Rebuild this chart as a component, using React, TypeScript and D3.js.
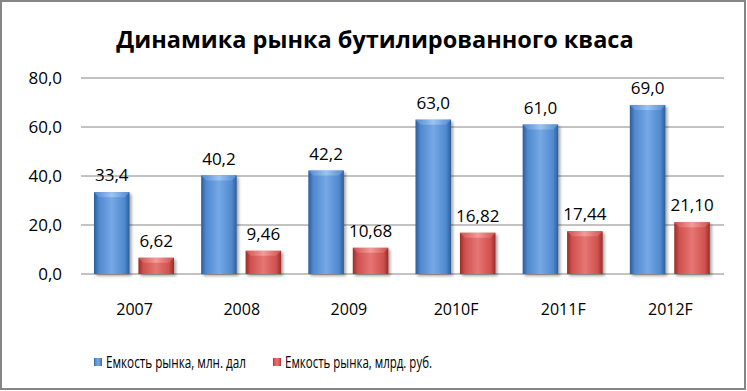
import React from "react";
import * as d3 from "d3";

const categories = ["2007", "2008", "2009", "2010F", "2011F", "2012F"];
const volumeMlnDal = [33.4, 40.2, 42.2, 63.0, 61.0, 69.0];
const valueBlnRub = [6.62, 9.46, 10.68, 16.82, 17.44, 21.1];
const volumeLabels = ["33,4", "40,2", "42,2", "63,0", "61,0", "69,0"];
const valueLabels = ["6,62", "9,46", "10,68", "16,82", "17,44", "21,10"];
const yTicks = [0, 20, 40, 60, 80];
const seriesNames = ["Емкость рынка, млн. дал", "Емкость рынка, млрд. руб."];

const W = 747;
const H = 391;
const FONT = "'Open Sans', 'Noto Sans', sans-serif";

export default function App() {
  const x0 = d3.scaleBand<string>().domain(categories).range([81, 724]).padding(0);
  const x1 = d3.scaleBand<string>().domain(["a", "b"]).range([13, 93]).paddingInner(0.2).paddingOuter(0);
  const y = d3.scaleLinear().domain([0, 80]).range([274, 78]);
  const fmt = (v: number) => v.toFixed(1).replace(".", ",");

  const palettes = [
    { id: "blue", edge: "#2c5d97", mid: "#5089cf", light: "#76a8e6", top: "#9cc4f2" },
    { id: "red", edge: "#9a2b28", mid: "#cf514e", light: "#e67673", top: "#f29c9a" },
  ];
  const legendX = [94, 273];
  const legendLen = [140, 147];

  const bar = (xPos: number, w: number, v: number, p: typeof palettes[0], k: string) => {
    const yt = y(v);
    const yb = y(0);
    const b = Math.min(5, (yb - yt) / 3);
    return (
      <g key={k} filter="url(#shadow)">
        <rect x={xPos} y={yt} width={w} height={yb - yt} fill={`url(#g-${p.id})`} />
        <polygon
          points={`${xPos},${yt} ${xPos + w},${yt} ${xPos + w - b},${yt + b} ${xPos + b},${yt + b}`}
          fill={`url(#gt-${p.id})`}
        />
      </g>
    );
  };

  return (
    <svg width={W} height={H} style={{ position: "absolute", left: 0, top: 0 }} fontFamily={FONT}>
      <defs>
        {palettes.map((p) => (
          <React.Fragment key={p.id}>
            <linearGradient id={`g-${p.id}`} x1="0" x2="1" y1="0" y2="0">
              <stop offset="0" stopColor={p.edge} />
              <stop offset="0.14" stopColor={p.mid} />
              <stop offset="0.5" stopColor={p.light} />
              <stop offset="0.86" stopColor={p.mid} />
              <stop offset="1" stopColor={p.edge} />
            </linearGradient>
            <linearGradient id={`gt-${p.id}`} x1="0" x2="1" y1="0" y2="0">
              <stop offset="0" stopColor={p.mid} />
              <stop offset="0.5" stopColor={p.top} />
              <stop offset="1" stopColor={p.mid} />
            </linearGradient>
          </React.Fragment>
        ))}
        <filter id="shadow" x="-20%" y="-10%" width="150%" height="130%">
          <feGaussianBlur in="SourceAlpha" stdDeviation="1.5" />
          <feOffset dx="2" dy="2" result="off" />
          <feComponentTransfer>
            <feFuncA type="linear" slope="0.35" />
          </feComponentTransfer>
          <feMerge>
            <feMergeNode />
            <feMergeNode in="SourceGraphic" />
          </feMerge>
        </filter>
      </defs>
      <rect x={1} y={1} width={744} height={388} fill="#fff" stroke="#868686" strokeWidth={2} />
      <text x={375} y={48} textAnchor="middle" fontSize={23.5} fontWeight="bold" fill="#000">
        Динамика рынка бутилированного кваса
      </text>
      {yTicks.map((t) => (
        <g key={t}>
          <line x1={81} x2={724} y1={y(t)} y2={y(t)} stroke="#868686" strokeWidth={1} />
          <text x={62} y={y(t) + 6} textAnchor="end" fontSize={17} fill="#000">
            {fmt(t)}
          </text>
        </g>
      ))}
      {categories.map((c, i) => {
        const bx = x0(c)!;
        const xa = bx + x1("a")!;
        const xb = bx + x1("b")!;
        const w = x1.bandwidth();
        return (
          <g key={c}>
            {bar(xa, w, volumeMlnDal[i], palettes[0], "a")}
            {bar(xb, w, valueBlnRub[i], palettes[1], "b")}
            <text x={xa + w / 2} y={y(volumeMlnDal[i]) - 11} textAnchor="middle" fontSize={17} fill="#000">
              {volumeLabels[i]}
            </text>
            <text x={xb + w / 2} y={y(valueBlnRub[i]) - 11} textAnchor="middle" fontSize={17} fill="#000">
              {valueLabels[i]}
            </text>
            <text x={bx + x0.bandwidth() / 2} y={315} textAnchor="middle" fontSize={16} fill="#000">
              {c}
            </text>
          </g>
        );
      })}
      {seriesNames.map((n, i) => (
        <g key={n}>
          <rect x={legendX[i]} y={358} width={8} height={8} fill={`url(#g-${palettes[i].id})`} />
          <text
            x={legendX[i] + 12}
            y={368}
            fontSize={16.5}
            fill="#000"
            textLength={legendLen[i]}
            lengthAdjust="spacingAndGlyphs"
          >
            {n}
          </text>
        </g>
      ))}
    </svg>
  );
}
